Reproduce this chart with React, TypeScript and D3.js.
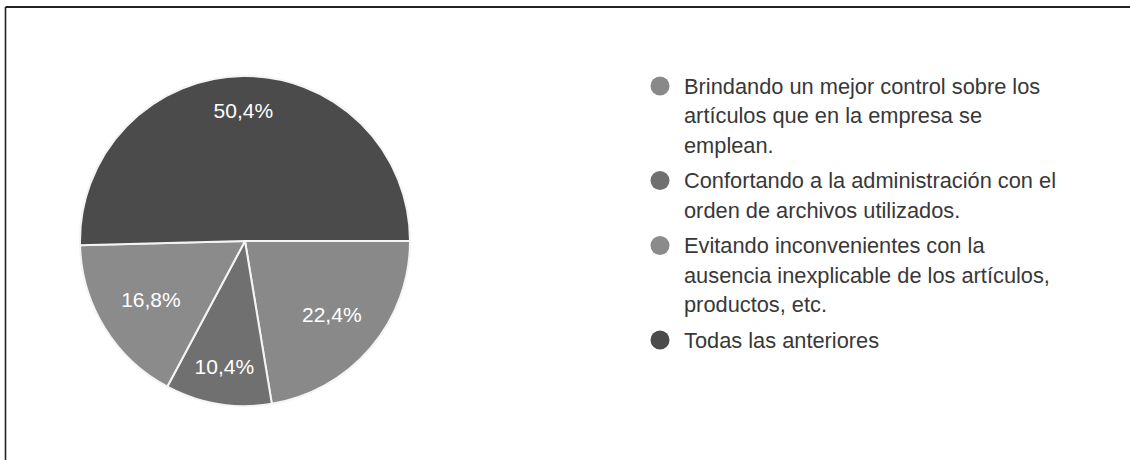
import React from "react";
import * as d3 from "d3";

const categories = [
  "Brindando un mejor control sobre los artículos que en la empresa se emplean.",
  "Confortando a la administración con el orden de archivos utilizados.",
  "Evitando inconvenientes con la ausencia inexplicable de los artículos, productos, etc.",
  "Todas las anteriores",
];
const legendLines = [
  ["Brindando un mejor control sobre los", "artículos que en la empresa se", "emplean."],
  ["Confortando a la administración con el", "orden de archivos utilizados."],
  ["Evitando inconvenientes con la", "ausencia inexplicable de los artículos,", "productos, etc."],
  ["Todas las anteriores"],
];
const values = [22.4, 10.4, 16.8, 50.4];
const valueLabels = ["22,4%", "10,4%", "16,8%", "50,4%"];
const colors = ["#898989", "#707070", "#8b8b8b", "#4b4b4b"];
const labelRadiusFactor = [0.69, 0.77, 0.67, 0.79];

export default function App() {
  const W = 1130;
  const H = 460;
  const cx = 245;
  const cy = 241;
  const r = 165;

  const pie = d3
    .pie<number>()
    .sort(null)
    .value((d) => d)
    .startAngle(Math.PI / 2)
    .endAngle(Math.PI / 2 + 2 * Math.PI);
  const arcs = pie(values);
  const arc = d3.arc<d3.PieArcDatum<number>>().innerRadius(0).outerRadius(r);

  const lineH = 29.5;
  const itemGap = 35.5;
  let y = 86;
  const legendItems = legendLines.map((lines, i) => {
    const startY = y;
    y += (lines.length - 1) * lineH + itemGap;
    return { lines, startY, i };
  });

  return (
    <svg
      width={W}
      height={H}
      style={{ position: "absolute", left: 0, top: 0, background: "#fff" }}
      fontFamily="'Liberation Sans', Arial, sans-serif"
    >
      <rect x={0} y={0} width={W} height={H} fill="#fff" />
      <line x1={5.5} y1={7} x2={W} y2={7} stroke="#222" strokeWidth={2} />
      <line x1={5.5} y1={7} x2={5.5} y2={H} stroke="#222" strokeWidth={1.6} />
      <g transform={`translate(${cx},${cy})`}>
        {arcs.map((a, i) => (
          <path key={i} d={arc(a) || ""} fill={colors[i]} stroke="#f4f4f4" strokeWidth={2} />
        ))}
        {arcs.map((a, i) => {
          const lr = r * labelRadiusFactor[i];
          const la = d3.arc<d3.PieArcDatum<number>>().innerRadius(lr).outerRadius(lr);
          const [x, yy] = la.centroid(a);
          return (
            <text
              key={"l" + i}
              x={x}
              y={yy}
              textAnchor="middle"
              dominantBaseline="central"
              fill="#ffffff"
              fontSize={21}
            >
              {valueLabels[i]}
            </text>
          );
        })}
      </g>
      <g>
        {legendItems.map(({ lines, startY, i }) => (
          <g key={i}>
            <title>{categories[i]}</title>
            <circle cx={660} cy={startY} r={9.5} fill={colors[i]} />
            {lines.map((ln, j) => (
              <text
                key={j}
                x={684}
                y={startY + j * lineH}
                dominantBaseline="central"
                fill="#383838"
                fontSize={21.8}
              >
                {ln}
              </text>
            ))}
          </g>
        ))}
      </g>
    </svg>
  );
}
